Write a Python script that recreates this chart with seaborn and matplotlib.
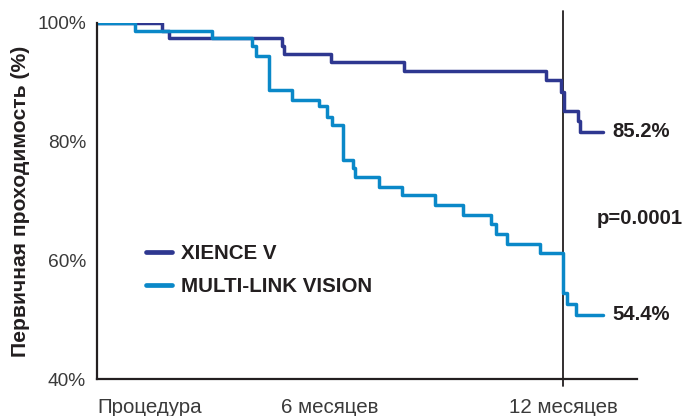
import numpy as np
import pandas as pd
import seaborn as sns
import matplotlib.pyplot as plt

# Kaplan-Meier style steps (months, % patency)
xience_t = [0, 1.67, 1.85, 4.76, 4.82, 6.03, 7.91, 11.56, 11.95, 12.01, 12.38, 12.44, 13.02]
xience_v = [100, 98.7, 97.4, 96.2, 94.8, 93.4, 91.9, 90.4, 88.4, 85.2, 83.5, 81.7, 81.7]

mlv_t = [0, 0.98, 2.95, 3.99, 4.09, 4.43, 5.01, 5.72, 5.93, 6.04, 6.34, 6.59, 6.64,
         7.26, 7.85, 8.69, 9.41, 10.15, 10.28, 10.55, 11.41, 11.99, 12.11, 12.33, 13.02]
mlv_v = [100, 98.7, 97.4, 96.1, 94.5, 88.7, 87.0, 86.0, 84.2, 82.8, 76.9, 75.6, 74.1,
         72.4, 71.0, 69.3, 67.6, 66.2, 64.4, 62.7, 61.3, 54.5, 52.6, 50.8, 50.8]

series_names = ["XIENCE V", "MULTI-LINK VISION"]
colors = ["#2E3790", "#0A88C8"]
x_ticks = [0, 6, 12]
x_labels = ["Процедура", "6 месяцев", "12 месяцев"]
y_ticks = [40, 60, 80, 100]
end_labels = ["85.2%", "54.4%"]
p_text = "p=0.0001"

df = pd.concat([
    pd.DataFrame({"month": xience_t, "pct": xience_v, "group": series_names[0]}),
    pd.DataFrame({"month": mlv_t, "pct": mlv_v, "group": series_names[1]}),
])

sns.set_style("white")
plt.rcParams["font.family"] = ["Liberation Sans", "DejaVu Sans"]

fig = plt.figure(figsize=(6.84, 4.16), dpi=100)
ax = fig.add_axes([97 / 684, 1 - 379 / 416, 540 / 684, 356 / 416])

sns.lineplot(data=df, x="month", y="pct", hue="group", hue_order=series_names,
             palette=colors, drawstyle="steps-post", linewidth=2.5, ax=ax,
             estimator=None, sort=False)

ax.set_xlim(0, 13.9)
ax.set_ylim(40, 100)

# 12-month reference line
ax.axvline(12, ymin=-0.02, ymax=1.035, color="#231F20", linewidth=1.3, clip_on=False, zorder=1)

sns.despine(ax=ax)
for side in ["left", "bottom"]:
    ax.spines[side].set_linewidth(1.6)
    ax.spines[side].set_color("#231F20")

ax.set_yticks(y_ticks)
ax.set_yticklabels([f"{v}%" for v in y_ticks], fontsize=13.8, color="#3a3a3a")
ax.set_xticks(x_ticks)
ax.set_xticklabels(x_labels, fontsize=14.8, color="#3a3a3a")
ax.get_xticklabels()[0].set_horizontalalignment("left")
ax.tick_params(axis="both", direction="out", length=5, width=1.6, color="#231F20")
ax.tick_params(axis="x", pad=9)
ax.tick_params(axis="y", pad=3)

ax.set_xlabel("")
ax.set_ylabel("Первичная проходимость (%)", fontsize=15.2, fontweight="bold",
              color="#231F20", labelpad=5)

handles, labels = ax.get_legend_handles_labels()
leg = ax.legend(handles, labels, loc="upper left", bbox_to_anchor=(0.057, 0.43),
                frameon=False, handlelength=1.25, handletextpad=0.45, labelspacing=0.68,
                prop={"weight": "bold", "size": 14.8})
for line in leg.get_lines():
    line.set_linewidth(3.4)
    line.set_solid_capstyle("round")
for txt in leg.get_texts():
    txt.set_color("#231F20")

# End-of-curve values and p-value
ax.annotate(end_labels[0], xy=(xience_t[-1], xience_v[-1]), xytext=(7, 0),
            textcoords="offset points", va="center", ha="left",
            fontsize=14.6, fontweight="bold", color="#231F20", annotation_clip=False)
ax.annotate(end_labels[1], xy=(mlv_t[-1], mlv_v[-1]), xytext=(7, 0),
            textcoords="offset points", va="center", ha="left",
            fontsize=14.6, fontweight="bold", color="#231F20", annotation_clip=False)
ax.text(12.85, 67.0, p_text, va="center", ha="left",
        fontsize=14.6, fontweight="bold", color="#231F20")

fig.savefig("out.png", dpi=100)
